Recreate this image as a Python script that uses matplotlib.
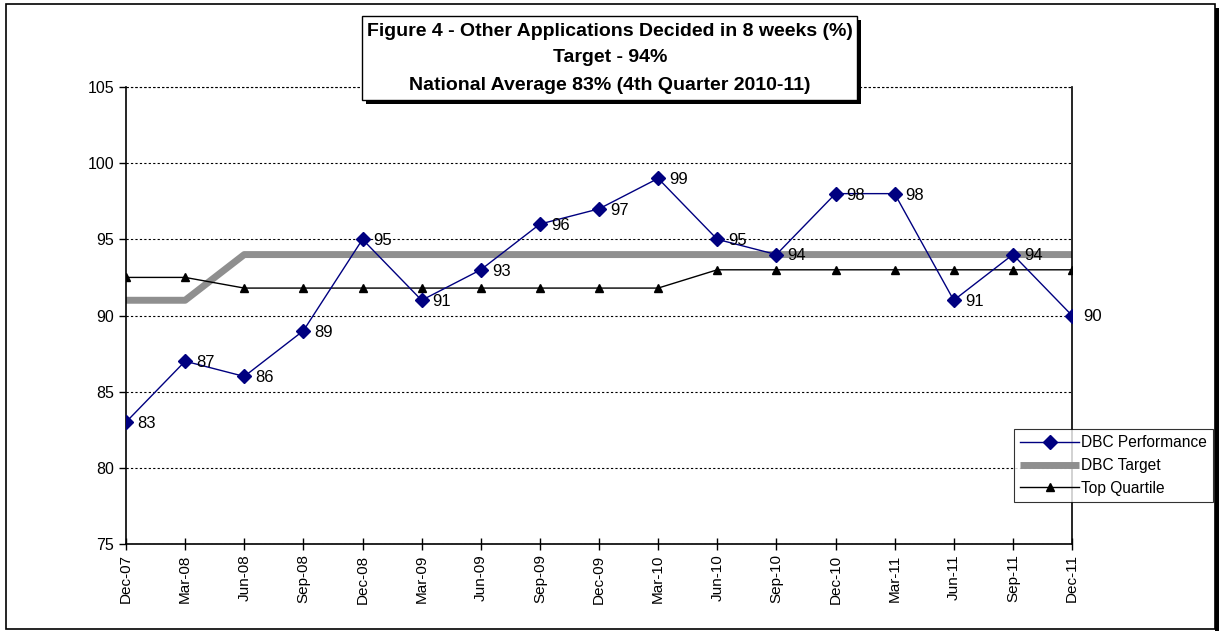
import matplotlib
matplotlib.use("Agg")
import matplotlib.pyplot as plt
from matplotlib.patches import Rectangle

plt.rcParams['font.family'] = ['Liberation Sans', 'DejaVu Sans']

quarters = ["Dec-07", "Mar-08", "Jun-08", "Sep-08", "Dec-08", "Mar-09", "Jun-09",
            "Sep-09", "Dec-09", "Mar-10", "Jun-10", "Sep-10", "Dec-10", "Mar-11",
            "Jun-11", "Sep-11", "Dec-11"]
performance = [83, 87, 86, 89, 95, 91, 93, 96, 97, 99, 95, 94, 98, 98, 91, 94, 90]
target = [91, 91, 94, 94, 94, 94, 94, 94, 94, 94, 94, 94, 94, 94, 94, 94, 94]
top_quartile = [92.5, 92.5, 91.8, 91.8, 91.8, 91.8, 91.8, 91.8, 91.8, 91.8,
                93, 93, 93, 93, 93, 93, 93]

W, H = 1222, 631
fig = plt.figure(figsize=(W / 100, H / 100), dpi=100)

# outer chart frame with right shadow
fig.patches.append(Rectangle((6 / W, 2 / H), 1209 / W, 625 / H, transform=fig.transFigure,
                             fill=False, edgecolor="black", lw=1.2, zorder=0))
fig.patches.append(Rectangle((1215 / W, 0), 4 / W, 623 / H, transform=fig.transFigure,
                             facecolor="black", edgecolor="none", zorder=0))

ax = fig.add_axes([126 / W, 87 / H, 946 / W, 457 / H])
x = list(range(len(quarters)))

ax.plot(x, target, color="#8f8f8f", lw=5, solid_capstyle="butt", label="DBC Target", zorder=2)
ax.plot(x, top_quartile, color="black", lw=1, marker="^", markersize=6, label="Top Quartile", zorder=3)
ax.plot(x, performance, color="#000080", lw=1, marker="D", markersize=7, label="DBC Performance", zorder=4)

for xi, v in zip(x, performance):
    ax.annotate(str(v), (xi, v), xytext=(8, -1), textcoords="offset points",
                ha="left", va="center", fontsize=12, color="black", zorder=5)

ax.set_xlim(0, len(quarters) - 1)
ax.set_ylim(75, 105)
ax.set_yticks(range(75, 106, 5))
ax.set_xticks(x)
ax.set_xticklabels(quarters, rotation=90, fontsize=11)
ax.tick_params(axis="y", labelsize=11.5, direction="out", length=5, width=1)
ax.tick_params(axis="x", direction="inout", length=8, width=1)

ax.grid(axis="y", color="black", linestyle=(0, (2, 2)), lw=0.8)
ax.set_axisbelow(True)
ax.spines["top"].set_visible(False)
for s in ["left", "bottom", "right"]:
    ax.spines[s].set_linewidth(1.2)
ax.axhline(105, color="black", linestyle=(0, (2, 2)), lw=0.8, clip_on=False)

handles, labels = ax.get_legend_handles_labels()
order = [2, 0, 1]
leg = fig.legend([handles[i] for i in order], [labels[i] for i in order],
                 loc="upper left", bbox_to_anchor=(1014 / W, 1 - 429 / H),
                 fontsize=11.2, frameon=True, fancybox=False, borderaxespad=0,
                 handlelength=3.8, handletextpad=0.1, labelspacing=0.5,
                 borderpad=0.4)
leg.get_frame().set_edgecolor("black")
leg.get_frame().set_linewidth(0.8)

# title box with shadow
fig.patches.append(Rectangle((366 / W, 1 - 104 / H), 495 / W, 84 / H, transform=fig.transFigure,
                             facecolor="black", edgecolor="none", zorder=6))
fig.patches.append(Rectangle((362 / W, 1 - 100 / H), 495 / W, 84 / H, transform=fig.transFigure,
                             facecolor="white", edgecolor="black", lw=1, zorder=7))
title_lines = ["Figure 4 - Other Applications Decided in 8 weeks (%)",
               "Target - 94%",
               "National Average 83% (4th Quarter 2010-11)"]
for line, yp in zip(title_lines, [31, 58, 85]):
    fig.text(610 / W, 1 - yp / H, line, ha="center", va="center", fontsize=14,
             fontweight="bold", zorder=8)

fig.savefig("out.png", dpi=100)
